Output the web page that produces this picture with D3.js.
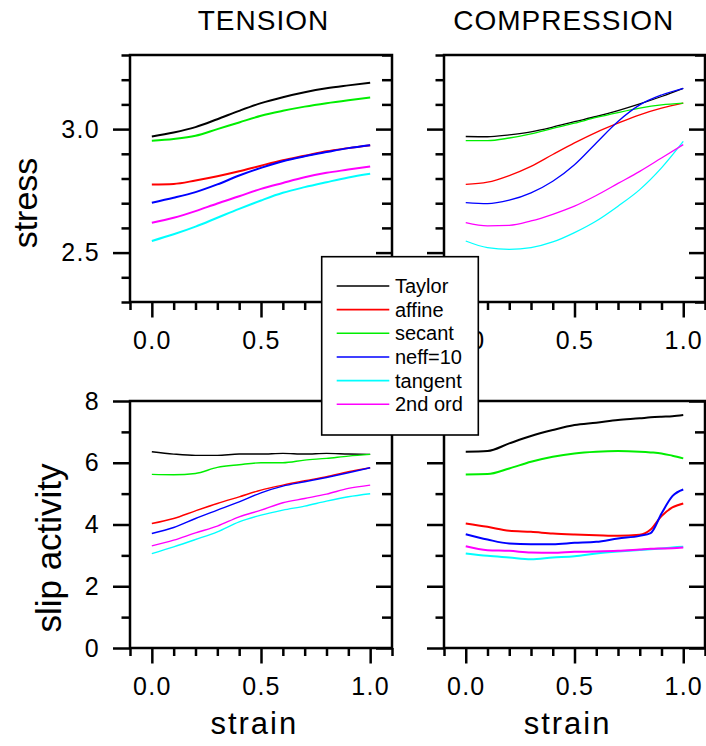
<!DOCTYPE html>
<html><head><meta charset="utf-8">
<script src="https://cdn.jsdelivr.net/npm/d3@7"></script>
<style>
body{margin:0;background:#fff}
svg{display:block}
text{font-family:"Liberation Sans",Arial,Helvetica,sans-serif;fill:#000}
</style>
</head><body>
<svg id="chart" width="706" height="746"></svg>
<script>
// ---------- data ----------
const seriesNames = ["Taylor", "affine", "secant", "neff=10", "tangent", "2nd ord"];
const strain = [0, 0.1, 0.2, 0.3, 0.4, 0.5, 0.6, 0.7, 0.8, 0.9, 1.0];
const strainBR = [0, 0.1, 0.2, 0.3, 0.4, 0.5, 0.6, 0.7, 0.8, 0.85, 0.9, 0.95, 1.0];
const strainTickLabels = [0, 0.5, 1.0];
const stressTickLabels = [2.5, 3.0];
const slipTickLabels = [0, 2, 4, 6, 8];
const panelTitles = ["TENSION", "COMPRESSION"];
const yTitles = ["stress", "slip activity"];
const xTitle = "strain";

// stress, tension (order: Taylor, affine, secant, neff=10, tangent, 2nd ord)
const stressTension = [
  [2.970, 2.986, 3.008, 3.040, 3.074, 3.105, 3.129, 3.149, 3.165, 3.177, 3.188],
  [2.776, 2.778, 2.792, 2.809, 2.829, 2.852, 2.874, 2.892, 2.910, 2.923, 2.935],
  [2.953, 2.960, 2.973, 3.000, 3.027, 3.054, 3.074, 3.091, 3.105, 3.117, 3.128],
  [2.702, 2.722, 2.745, 2.776, 2.812, 2.843, 2.870, 2.890, 2.907, 2.923, 2.935],
  [2.547, 2.574, 2.605, 2.641, 2.677, 2.711, 2.742, 2.765, 2.785, 2.804, 2.819],
  [2.621, 2.641, 2.668, 2.699, 2.728, 2.758, 2.782, 2.805, 2.823, 2.836, 2.849]
];
// stress, compression
const stressCompression = [
  [2.970, 2.969, 2.977, 2.989, 3.008, 3.030, 3.051, 3.075, 3.102, 3.132, 3.165],
  [2.776, 2.785, 2.812, 2.849, 2.897, 2.944, 2.987, 3.024, 3.058, 3.085, 3.105],
  [2.953, 2.953, 2.964, 2.981, 3.003, 3.024, 3.047, 3.067, 3.085, 3.098, 3.105],
  [2.702, 2.698, 2.712, 2.742, 2.789, 2.856, 2.944, 3.031, 3.098, 3.138, 3.165],
  [2.547, 2.520, 2.513, 2.520, 2.543, 2.581, 2.628, 2.688, 2.755, 2.843, 2.950],
  [2.621, 2.608, 2.610, 2.628, 2.655, 2.688, 2.731, 2.780, 2.829, 2.883, 2.937]
];
// slip activity, tension
const slipTension = [
  [6.357, 6.281, 6.238, 6.238, 6.281, 6.281, 6.303, 6.281, 6.303, 6.281, 6.270],
  [4.032, 4.195, 4.443, 4.681, 4.897, 5.114, 5.276, 5.416, 5.546, 5.708, 5.838],
  [5.622, 5.611, 5.654, 5.849, 5.935, 6.000, 6.000, 6.086, 6.141, 6.216, 6.270],
  [3.708, 3.903, 4.195, 4.465, 4.735, 5.027, 5.243, 5.384, 5.524, 5.676, 5.838],
  [3.059, 3.276, 3.514, 3.762, 4.086, 4.303, 4.465, 4.595, 4.757, 4.897, 4.995],
  [3.308, 3.492, 3.730, 3.946, 4.249, 4.465, 4.703, 4.843, 4.984, 5.168, 5.276]
];
// slip activity, compression (strainBR grid)
const slipCompression = [
  [6.357, 6.378, 6.627, 6.865, 7.059, 7.222, 7.297, 7.384, 7.438, 7.470, 7.492, 7.510, 7.546],
  [4.032, 3.924, 3.795, 3.762, 3.708, 3.676, 3.654, 3.632, 3.665, 3.838, 4.270, 4.551, 4.681],
  [5.622, 5.632, 5.816, 6.032, 6.195, 6.303, 6.357, 6.378, 6.357, 6.335, 6.303, 6.227, 6.141],
  [3.686, 3.514, 3.384, 3.362, 3.362, 3.405, 3.438, 3.546, 3.632, 3.720, 4.357, 4.919, 5.135],
  [3.059, 2.984, 2.930, 2.876, 2.930, 2.973, 3.059, 3.124, 3.178, 3.200, 3.222, 3.254, 3.276],
  [3.297, 3.168, 3.146, 3.092, 3.081, 3.114, 3.124, 3.146, 3.189, 3.211, 3.222, 3.232, 3.254]
];

// ---------- styles ----------
const colors = ["#000000", "#ff0000", "#00ee00", "#0000ff", "#00ffff", "#ff00ff"];

const svg = d3.select("#chart");

const panels = [
  {x0: 130, x1: 392, y0: 55, y1: 302, xs: strain, data: stressTension, ydom: [2.3, 3.3], step: 0.1, major: stressTickLabels, fmt: d3.format(".1f"), ylab: true, lw: 2},
  {x0: 444, x1: 705, y0: 55, y1: 302, xs: strain, data: stressCompression, ydom: [2.3, 3.3], step: 0.1, major: stressTickLabels, fmt: d3.format(".1f"), ylab: false, lw: 1.3},
  {x0: 130, x1: 392, y0: 401, y1: 648, xs: strain, data: slipTension, ydom: [0, 8], step: 1, major: slipTickLabels, fmt: d3.format("d"), ylab: true, lw: 1.4},
  {x0: 444, x1: 705, y0: 401, y1: 648, xs: strainBR, data: slipCompression, ydom: [0, 8], step: 1, major: slipTickLabels, fmt: d3.format("d"), ylab: false, lw: 2}
];

const near = (a, b) => Math.abs(a - b) < 1e-6;

panels.forEach(p => {
  const g = svg.append("g");
  const x = d3.scaleLinear().domain([-0.1, 1.1]).range([p.x0, p.x1]);
  const y = d3.scaleLinear().domain(p.ydom).range([p.y1, p.y0]);

  const yAll = d3.range(p.ydom[0], p.ydom[1] + p.step / 2, p.step).map(v => +v.toFixed(4));
  const yMinor = yAll.filter(v => !p.major.some(m => near(m, v)));
  const xAll = d3.range(-0.1, 1.1 + 0.05, 0.1).map(v => +v.toFixed(4));
  const xMinor = xAll.filter(v => !strainTickLabels.some(m => near(m, v)));

  const style = sel => {
    sel.select(".domain").remove();
    sel.selectAll(".tick line").attr("stroke", "#000").attr("stroke-width", 2.5);
    sel.selectAll(".tick text").style("font-size", "25px").style("letter-spacing", "1.3px").attr("fill", "#000");
  };

  // left axis (outside)
  g.append("g").attr("transform", `translate(${p.x0},0)`)
    .call(d3.axisLeft(y).tickValues(yMinor).tickSize(8.5).tickFormat("")).call(style);
  g.append("g").attr("transform", `translate(${p.x0},0)`)
    .call(d3.axisLeft(y).tickValues(p.major).tickSize(17).tickPadding(13).tickFormat(p.ylab ? p.fmt : "")).call(style);
  // right axis (inside)
  g.append("g").attr("transform", `translate(${p.x1},0)`)
    .call(d3.axisRight(y).tickValues(yMinor).tickSize(-10).tickFormat("")).call(style);
  g.append("g").attr("transform", `translate(${p.x1},0)`)
    .call(d3.axisRight(y).tickValues(p.major).tickSize(-16).tickFormat("")).call(style);
  // bottom axis (outside)
  g.append("g").attr("transform", `translate(0,${p.y1})`)
    .call(d3.axisBottom(x).tickValues(xMinor).tickSize(8).tickFormat("")).call(style);
  g.append("g").attr("transform", `translate(0,${p.y1})`)
    .call(d3.axisBottom(x).tickValues(strainTickLabels).tickSize(15.5).tickPadding(13.5).tickFormat(d3.format(".1f"))).call(style);

  // frame
  g.append("rect").attr("x", p.x0).attr("y", p.y0)
    .attr("width", p.x1 - p.x0).attr("height", p.y1 - p.y0)
    .attr("fill", "none").attr("stroke", "#000").attr("stroke-width", 2.5);

  // series
  const line = d3.line()
    .x((d, i) => x(p.xs[i]))
    .y(d => y(d))
    .curve(d3.curveMonotoneX);
  p.data.forEach((vals, k) => {
    g.append("path").attr("d", line(vals))
      .attr("fill", "none").attr("stroke", colors[k]).attr("stroke-width", p.lw)
      .attr("stroke-linejoin", "round");
  });
});

// titles
[[263.5, panelTitles[0]], [563.7, panelTitles[1]]].forEach(([cx, t]) => {
  svg.append("text").attr("x", cx).attr("y", 30).attr("text-anchor", "middle")
    .style("font-size", "28px").style("letter-spacing", "1px").text(t);
});

// y titles
svg.append("text").attr("transform", "translate(36.7,203) rotate(-90)")
  .attr("text-anchor", "middle").style("font-size", "34px").text(yTitles[0]);
svg.append("text").attr("transform", "translate(60.7,548) rotate(-90)")
  .attr("text-anchor", "middle").style("font-size", "35px").text(yTitles[1]);

// x titles
[254.3, 567.6].forEach(cx => {
  svg.append("text").attr("x", cx).attr("y", 734).attr("text-anchor", "middle")
    .style("font-size", "31px").style("letter-spacing", "2px").text(xTitle);
});

// legend
const lg = svg.append("g");
lg.append("rect").attr("x", 321.7).attr("y", 256.7).attr("width", 156.6).attr("height", 178.3)
  .attr("fill", "#fff").attr("stroke", "#000").attr("stroke-width", 1.6);
seriesNames.forEach((name, i) => {
  const yy = 286 + i * 23.66;
  lg.append("line").attr("x1", 336.7).attr("x2", 389.3).attr("y1", yy).attr("y2", yy)
    .attr("stroke", colors[i]).attr("stroke-width", 1.6);
  lg.append("text").attr("x", 395).attr("y", yy).attr("dy", "0.35em")
    .style("font-size", "20px").text(name);
});
</script>
</body></html>
